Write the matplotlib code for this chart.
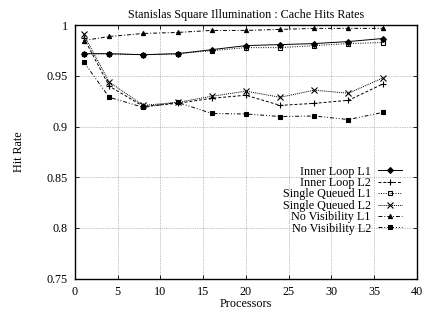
import matplotlib
matplotlib.use("Agg")
import matplotlib.pyplot as plt

plt.rcParams['font.family'] = ['Liberation Serif', 'DejaVu Serif']
plt.rcParams['font.size'] = 8.7

procs = [1, 4, 8, 12, 16, 20, 24, 28, 32, 36]

inner_l1 = [0.972, 0.972, 0.971, 0.972, 0.976, 0.980, 0.981, 0.982, 0.984, 0.987]
inner_l2 = [0.988, 0.940, 0.920, 0.923, 0.928, 0.931, 0.921, 0.923, 0.926, 0.942]
single_l1 = [0.972, 0.972, 0.971, 0.972, 0.975, 0.978, 0.978, 0.980, 0.982, 0.983]
single_l2 = [0.991, 0.944, 0.921, 0.924, 0.930, 0.935, 0.929, 0.936, 0.933, 0.948]
novis_l1 = [0.985, 0.989, 0.992, 0.993, 0.995, 0.995, 0.996, 0.997, 0.997, 0.997]
novis_l2 = [0.964, 0.929, 0.919, 0.924, 0.913, 0.9125, 0.910, 0.9105, 0.907, 0.914]

yticks = [0.75, 0.8, 0.85, 0.9, 0.95, 1.0]
ytick_labels = ['0.75', '0.8', '0.85', '0.9', '0.95', '1']
xticks = [0, 5, 10, 15, 20, 25, 30, 35, 40]

fig = plt.figure(figsize=(4.24, 3.13), dpi=100)
ax = fig.add_axes([0.177, 0.110, 0.806, 0.809])

series = [
    ('Inner Loop L1', inner_l1, '-', 'D', 'black'),
    ('Inner Loop L2', inner_l2, (0, (3, 2)), '+', 'none'),
    ('Single Queued L1', single_l1, (0, (1, 1.5)), 's', 'none'),
    ('Single Queued L2', single_l2, (0, (1, 1)), 'x', 'none'),
    ('No Visibility L1', novis_l1, (0, (4, 2, 1, 2)), '^', 'black'),
    ('No Visibility L2', novis_l2, (0, (4, 2, 1, 2, 1, 2)), 's', 'black'),
]
for name, vals, ls, mk, fc in series:
    ms = 3 if mk in ('D', 's', '^') else 4
    ax.plot(procs, vals, color='black', linestyle=ls, linewidth=0.7,
            marker=mk, markersize=ms, markerfacecolor=fc,
            markeredgecolor='black', markeredgewidth=0.8, label=name)

ax.set_xlim(0, 40)
ax.set_ylim(0.75, 1.0)
ax.set_xticks(xticks)
ax.set_yticks(yticks)
ax.set_yticklabels(ytick_labels)
ax.tick_params(direction='in', top=True, right=True, length=3, width=0.6,
               labelsize=8.7, pad=5)
ax.grid(True, color='#888888', linestyle=(0, (1, 1.5)), linewidth=0.5)
for s in ax.spines.values():
    s.set_linewidth(1.0)

ax.set_title('Stanislas Square Illumination : Cache Hits Rates', fontsize=8.7, pad=5)
ax.set_xlabel('Processors', labelpad=0)
ax.set_ylabel('Hit Rate', labelpad=16)

ax.legend(loc='lower right', bbox_to_anchor=(0.975, 0.15), markerfirst=False,
          frameon=False, handlelength=2.0, handletextpad=0.6,
          labelspacing=-0.05, borderpad=0, fontsize=8.7)

fig.savefig('out.png', dpi=100)
